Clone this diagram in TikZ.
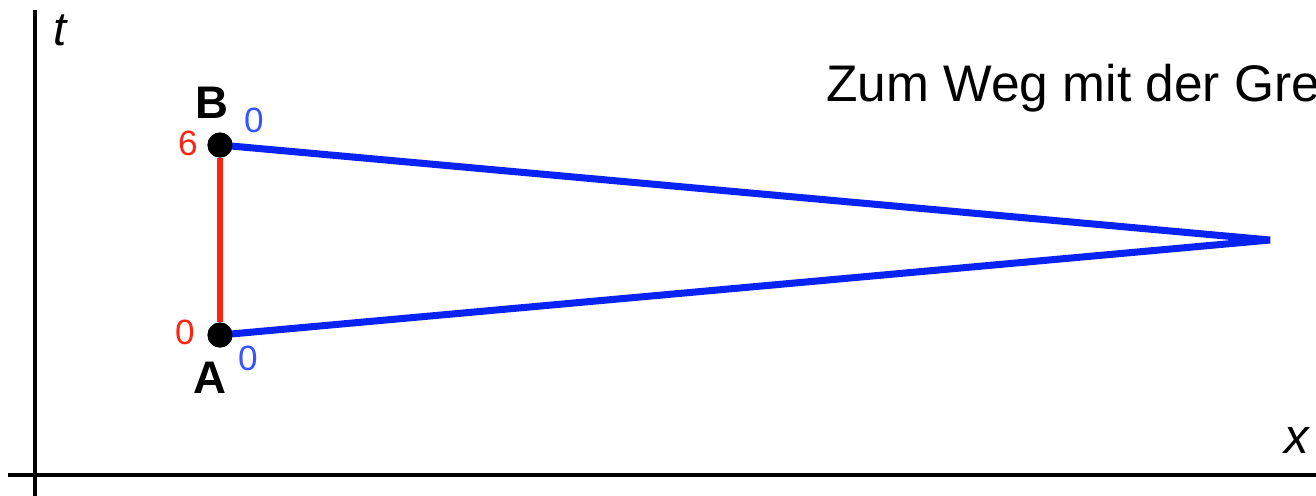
\documentclass[tikz,border=0pt]{standalone}
\usepackage{fontspec}
\setmainfont{Liberation Sans}
\usetikzlibrary{positioning}
\usetikzlibrary{calc}
\definecolor{weg}{RGB}{10,35,245}
\definecolor{zeit}{RGB}{255,35,20}
\definecolor{wegzahl}{RGB}{55,85,255}
\tikzset{dot/.style={circle,fill=black,inner sep=0pt,minimum size=0.5cm},
lbl/.style={inner sep=0pt,font=\fontsize{20}{20}\selectfont}}
\begin{document}
\begin{tikzpicture}[x=0.02cm,y=-0.02cm]
\useasboundingbox (0,0) rectangle (1316,495);
\clip (0,0) rectangle (1316,495);
\coordinate (o) at (35,475);
\coordinate (tend) at (35,10);
\coordinate (xend) at (1320,475);
\coordinate (xstart) at (8,475);
\coordinate (tstart) at (35,500);
\draw[line width=2.2pt] (tstart) -- (tend);
\draw[line width=2.4pt] (xstart) -- (xend);
\node (t) at (60,30) [font=\fontsize{27}{27}\selectfont\itshape] {t};
\node (x) at (1297,440) [font=\fontsize{28}{28}\selectfont\itshape] {x};

\node (B) [dot] at (220,145) {};
\node (A) [dot] at (220,335) {};
\coordinate (S) at (1270,240);
\draw[zeit,line width=3.4pt] (B) -- (A);
\draw[weg,line width=4pt] (B.center) -- (S) -- (A.center);
\node (B) [dot] at (220,145) {};
\node (A) [dot] at (220,335) {};

\node (nb) at ($(B)+(-8,-42)$) [inner sep=0pt,font=\fontsize{26}{26}\selectfont\bfseries] {B};
\node (na) at ($(A)+(-10,43)$) [inner sep=0pt,font=\fontsize{26}{26}\selectfont\bfseries] {A};
\node (tb) at ($(B)+(-32,-2)$) [lbl,zeit] {6};
\node (ta) at ($(A)+(-35,-3)$) [lbl,zeit] {0};
\node (wb) at ($(B)+(34,-25)$) [lbl,wegzahl] {0};
\node (wa) at ($(A)+(28,23)$) [lbl,wegzahl] {0};

\node (titel) [anchor=base west,inner sep=0pt,font=\fontsize{29.3}{29.3}\selectfont] at (826,101) {Zum Weg mit der Gre};
\end{tikzpicture}
\end{document}
